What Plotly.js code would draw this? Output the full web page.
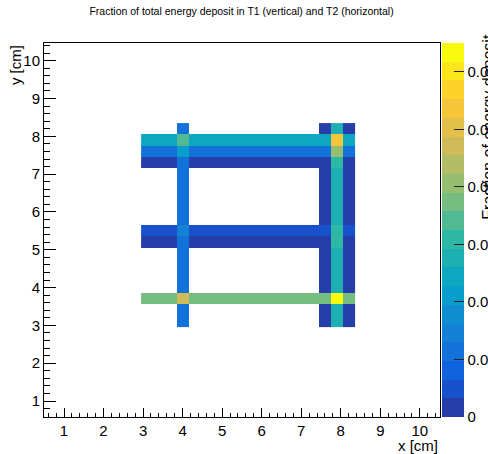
<!DOCTYPE html>
<html>
<head>
<meta charset="utf-8">
<script src="https://cdn.plot.ly/plotly-3.0.1.min.js"></script>
<style>
  html, body { margin: 0; padding: 0; background: #fff; }
  #chart { width: 488px; height: 454px; }
</style>
</head>
<body>
<div id="chart"></div>
<script>
// Bin centres (cm) of the 0.3 cm histogram bins covered by the strips
const xBins = [3.1, 3.4, 3.7, 4.0, 4.3, 4.6, 4.9, 5.2, 5.5, 5.8, 6.1, 6.4, 6.7, 7.0, 7.3, 7.6, 7.9, 8.2];
const yBins = [3.1, 3.4, 3.7, 4.0, 4.3, 4.6, 4.9, 5.2, 5.5, 5.8, 6.1, 6.4, 6.7, 7.0, 7.3, 7.6, 7.9, 8.2];

// T1: vertical strips, fraction of total deposit per bin along the strip
const t1StripX = [4.0, 7.6, 7.9, 8.2];
const t1Fraction = [0.0105, 0.0012, 0.0285, 0.0012];

// T2: horizontal strips, fraction of total deposit per bin along the strip
const t2StripY = [3.7, 5.2, 5.5, 7.3, 7.6, 7.9];
const t2Fraction = [0.0365, 0.0015, 0.0035, 0.0015, 0.0115, 0.0242];

const zMax = 0.065;
const cbTickVals = [0, 0.01, 0.02, 0.03, 0.04, 0.05, 0.06];
const cbTickText = ['0', '0.01', '0.02', '0.03', '0.04', '0.05', '0.06'];

// Both detectors fill the same 2D histogram: each bin holds the T1 and T2 deposits it receives
const z = yBins.map(function (y) {
  return xBins.map(function (x) {
    let v = 0;
    t1StripX.forEach(function (sx, i) { if (Math.abs(sx - x) < 1e-6) v += t1Fraction[i]; });
    t2StripY.forEach(function (sy, i) { if (Math.abs(sy - y) < 1e-6) v += t2Fraction[i]; });
    return v > 0 ? v : null;
  });
});

// "Bird" palette with 20 discrete contour levels
const stops = [0.0, 0.125, 0.25, 0.375, 0.5, 0.625, 0.75, 0.875, 1.0];
const red   = [0.2082, 0.0592, 0.0780, 0.0232, 0.1802, 0.5301, 0.8186, 0.9956, 0.9764];
const green = [0.1664, 0.3599, 0.5041, 0.6419, 0.7178, 0.7492, 0.7328, 0.7862, 0.9832];
const blue  = [0.5293, 0.8684, 0.8385, 0.7914, 0.6425, 0.4662, 0.3499, 0.1968, 0.0539];
function bird(f) {
  let i = 0;
  while (i < stops.length - 2 && f > stops[i + 1]) i++;
  const t = (f - stops[i]) / (stops[i + 1] - stops[i]);
  const c = function (a) { return Math.round(255 * (a[i] + (a[i + 1] - a[i]) * t)); };
  return 'rgb(' + c(red) + ',' + c(green) + ',' + c(blue) + ')';
}
const nLevels = 20;
const colorscale = [];
for (let k = 0; k < nLevels; k++) {
  const col = bird(Math.min(1, (k + 0.99) / nLevels));
  colorscale.push([k / nLevels, col]);
  colorscale.push([(k + 1) / nLevels, col]);
}

const fontFamily = '"Liberation Sans", Arial, Helvetica, sans-serif';

const trace = {
  type: 'heatmap',
  x: xBins,
  y: yBins,
  z: z,
  zmin: 0,
  zmax: zMax,
  zsmooth: false,
  colorscale: colorscale,
  hoverinfo: 'none',
  colorbar: {
    x: 1, xanchor: 'left', xpad: 2,
    y: 0.5, yanchor: 'middle', ypad: 0,
    len: 1, lenmode: 'fraction',
    thickness: 22, thicknessmode: 'pixels',
    outlinewidth: 0,
    ticks: 'inside', ticklen: 10, tickwidth: 1, tickcolor: '#222',
    tickmode: 'array', tickvals: cbTickVals, ticktext: cbTickText,
    tickfont: { family: fontFamily, size: 15, color: '#000' }
  }
};

const axisCommon = {
  showgrid: false, zeroline: false,
  showline: true, linecolor: '#000', linewidth: 1, mirror: true,
  ticks: 'inside', tickcolor: '#000', tickwidth: 1,
  dtick: 1, tick0: 0,
  tickfont: { family: fontFamily, size: 15, color: '#000' }
};

const layout = {
  width: 488, height: 454,
  margin: { l: 44, r: 48, t: 43, b: 37, autoexpand: false },
  paper_bgcolor: '#fff', plot_bgcolor: '#fff',
  title: {
    text: 'Fraction of total energy deposit in T1 (vertical) and T2 (horizontal)',
    font: { family: fontFamily, size: 10.5, color: '#000' },
    x: 0.495, xanchor: 'center', xref: 'container',
    y: 0.974, yanchor: 'middle', yref: 'container'
  },
  xaxis: Object.assign({}, axisCommon, {
    range: [0.494, 10.51],
    ticklen: 9,
    minor: { ticks: 'inside', ticklen: 4.5, dtick: 0.2, tick0: 0, tickcolor: '#000', tickwidth: 1 }
  }),
  yaxis: Object.assign({}, axisCommon, {
    range: [0.577, 10.468],
    ticklen: 12,
    minor: { ticks: 'inside', ticklen: 6, dtick: 0.2, tick0: 0, tickcolor: '#000', tickwidth: 1 }
  }),
  annotations: [
    {
      text: 'x [cm]', xref: 'paper', yref: 'paper',
      x: 1, xanchor: 'right', y: -0.076, yanchor: 'middle',
      showarrow: false, font: { family: fontFamily, size: 15, color: '#000' }
    },
    {
      text: 'y [cm]', xref: 'paper', yref: 'paper', textangle: -90,
      x: -0.073, xanchor: 'center', y: 1, yanchor: 'top',
      showarrow: false, font: { family: fontFamily, size: 15, color: '#000' }
    },
    {
      text: 'Fraction of energy deposit', xref: 'paper', yref: 'paper', textangle: -90,
      x: 1.096, xanchor: 'left', y: 1.029, yanchor: 'top',
      showarrow: false, font: { family: fontFamily, size: 16, color: '#000' }
    }
  ]
};

Plotly.newPlot('chart', [trace], layout, { staticPlot: true, displayModeBar: false });
</script>
</body>
</html>
